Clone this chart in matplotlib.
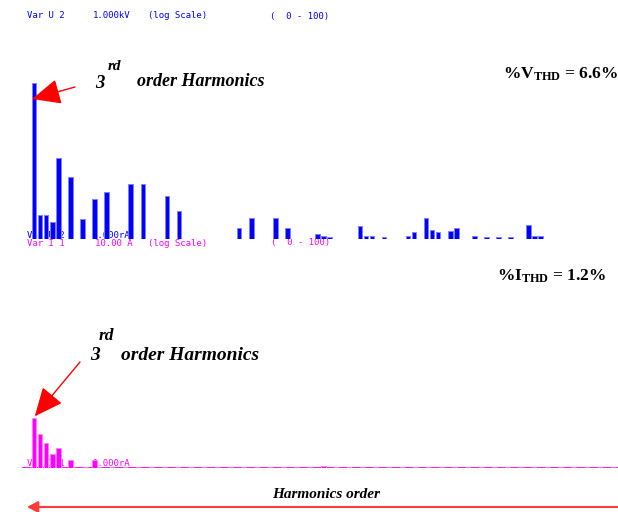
import matplotlib
matplotlib.use("Agg")
import matplotlib.pyplot as plt

# Harmonic spectrum slots (index along the analyser's display) and bar levels
volt_slots = [0, 1, 2, 3, 4, 6, 8, 10, 12, 16, 18, 22, 24, 34, 36, 40, 42, 47, 48, 49,
              54, 55, 56, 58, 62, 63, 65, 66, 67, 69, 70, 73, 75, 77, 79, 82, 83, 84]
volt_levels = [97.5, 15, 15, 10.5, 50.5, 39, 12.5, 25, 29.5, 34.5, 34.5, 27, 17.5, 7, 13, 13, 7, 3, 2, 1.2,
               8, 2, 2, 1.2, 2, 4.5, 13, 5.5, 4.5, 5, 7, 2, 1.2, 1.5, 1.5, 9, 2, 2]

curr_slots = [0, 1, 2, 3, 4, 6, 10, 48]
curr_levels = [31, 21, 15.5, 8.7, 12, 4.7, 5, 1.2]

volt_header = ["Var U 2", "1.000kV", "(log Scale)", "(  0 - 100)"]
curr_header = ["Var I 1", "10.00 A", "(log Scale)", "(  0 - 100)"]
volt_thd = r"%V$_{\rm THD}$ = 6.6%"
curr_thd = r"%I$_{\rm THD}$ = 1.2%"

BLUE = "#0000ff"
MAGENTA = "#ff00ff"
RED = "#ff0000"

plt.rcParams["mathtext.fontset"] = "custom"
plt.rcParams["mathtext.rm"] = "Liberation Serif:bold"
plt.rcParams["mathtext.bf"] = "Liberation Serif:bold"
plt.rcParams["mathtext.it"] = "Liberation Serif:bold:italic"

W, H = 618, 512
fig = plt.figure(figsize=(W / 100, H / 100), dpi=100)
fig.patch.set_facecolor("white")


def fx(x):
    return x / W


def fy(y):
    return 1 - y / H


slot0, step = 34.2, 6.03
xlim = ((22 - slot0) / step, (W - slot0) / step)
unit_px = 1.6  # pixels per level unit


def make_axes(baseline_y):
    ax = fig.add_axes([fx(22), fy(baseline_y), (W - 22) / W, 100 * unit_px / H])
    ax.set_xlim(*xlim)
    ax.set_ylim(0, 100)
    ax.set_axis_off()
    return ax


mono = dict(family="DejaVu Sans Mono", fontsize=6.5, va="center", ha="left")
serif_bi = dict(family="Liberation Serif", weight="bold", style="italic", color="black")
serif_b = dict(family="Liberation Serif", weight="bold", color="black")
big_head = dict(arrowstyle="-|>,head_length=0.85,head_width=0.38",
                mutation_scale=21, color=RED, lw=1.0, shrinkA=0, shrinkB=0)

# ---- voltage spectrum ----
ax_v = make_axes(239)
ax_v.bar(volt_slots, volt_levels, width=0.74, color=BLUE, edgecolor="#8080ff",
         linewidth=0.7, zorder=2)
for txt, x in zip(volt_header, [27, 93, 148, 270]):
    fig.text(fx(x), fy(16), txt, color=BLUE, **mono)

# overlay captions sitting under the bars
for txt, x in zip(["Var U 2", "1.000rA"], [27, 93]):
    ax_v.text(fx(x), fy(235), txt, color=BLUE, transform=fig.transFigure, zorder=1, **mono)
for txt, x in zip(curr_header, [27, 95, 148, 271]):
    ax_v.text(fx(x), fy(243), txt, color=MAGENTA, transform=fig.transFigure, zorder=1, **mono)

fig.text(fx(95), fy(84), "3", fontsize=13.5, va="center", ha="left", **serif_bi)
fig.text(fx(108), fy(66), "rd", fontsize=11, va="center", ha="left", **serif_bi)
fig.text(fx(137), fy(82), "order Harmonics", fontsize=13, va="center", ha="left", **serif_bi)
ax_v.annotate("", xy=(volt_slots[0] - 0.35, volt_levels[0] - 10), xycoords="data",
              xytext=(75, H - 87), textcoords="figure pixels",
              arrowprops=big_head, annotation_clip=False)
fig.text(fx(503), fy(74), volt_thd, fontsize=12.5, va="center", ha="left", **serif_b)

# ---- current spectrum ----
ax_i = make_axes(467.5)
ax_i.axhline(0, color="#ff55ff", lw=1.9, zorder=1)
ax_i.axhline(0, color=MAGENTA, lw=1.9, ls=(0, (3, 2)), zorder=1.1)
ax_i.bar(curr_slots, curr_levels, width=0.74, color=MAGENTA, edgecolor="#ff80ff",
         linewidth=0.7, zorder=2)
for txt, x in zip(["Var I 1", "1.000rA"], [27, 93]):
    ax_i.text(fx(x), fy(463), txt, color=MAGENTA, transform=fig.transFigure, zorder=1, **mono)

fig.text(fx(90), fy(356), "3", fontsize=14, va="center", ha="left", **serif_bi)
fig.text(fx(99), fy(336), "rd", fontsize=12.5, va="center", ha="left", **serif_bi)
fig.text(fx(121), fy(356), "order Harmonics", fontsize=14, va="center", ha="left", **serif_bi)
ax_i.annotate("", xy=(curr_slots[0] + 0.1, curr_levels[0] + 1), xycoords="data",
              xytext=(80, H - 362), textcoords="figure pixels",
              arrowprops=big_head, annotation_clip=False)
fig.text(fx(497), fy(276), curr_thd, fontsize=12.5, va="center", ha="left", **serif_b)

# ---- harmonic order axis arrow ----
fig.text(fx(272), fy(494), "Harmonics order", fontsize=11, va="center", ha="left", **serif_bi)
ax_i.annotate("", xy=(27, H - 507), xycoords="figure pixels",
              xytext=(W + 2, H - 507), textcoords="figure pixels",
              arrowprops=dict(arrowstyle="-|>,head_length=0.6,head_width=0.32",
                              mutation_scale=11, color="#ff3c3c", lw=1.5,
                              shrinkA=0, shrinkB=0),
              annotation_clip=False)

fig.savefig("out.png", dpi=100, facecolor="white")
